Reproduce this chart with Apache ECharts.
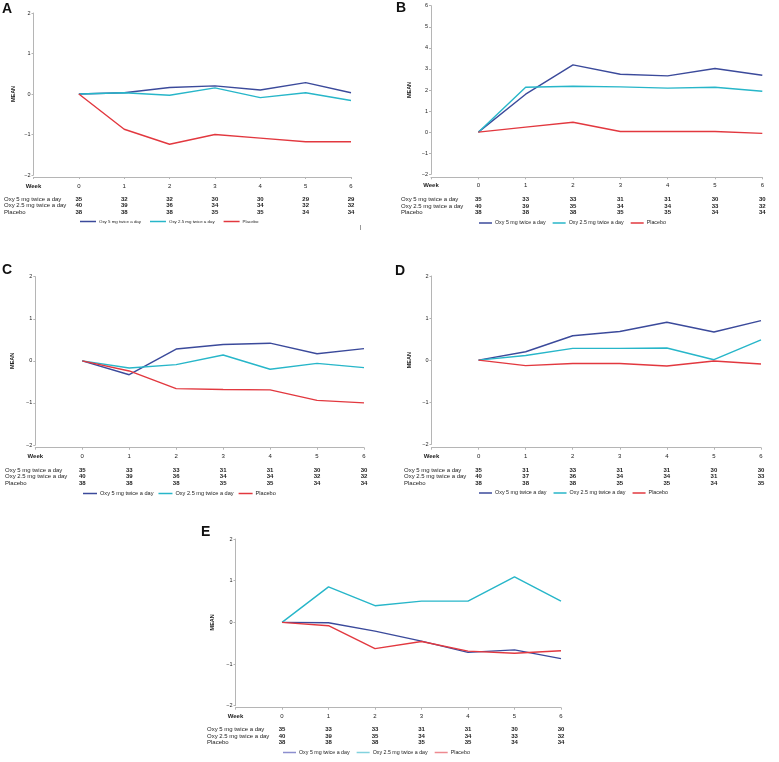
<!DOCTYPE html>
<html>
<head>
<meta charset="utf-8">
<script src="https://cdn.jsdelivr.net/npm/echarts@6/dist/echarts.min.js"></script>
<style>
html,body{margin:0;padding:0;background:#fff;}
#chart{width:779px;height:762px;}
</style>
</head>
<body>
<div id="chart"></div>
<script>
// ---------- DATA ----------
const weeks = [0, 1, 2, 3, 4, 5, 6];
const seriesNames = ['Oxy 5 mg twice a day', 'Oxy 2.5 mg twice a day', 'Placebo'];
const panelLetters = ['A', 'B', 'C', 'D', 'E'];
const yAxisTitle = 'MEAN';
const xAxisTitle = 'Week';

// Panel A
const aOxy5 = [0, 0.03, 0.16, 0.2, 0.1, 0.28, 0.03];
const aOxy25 = [0, 0.03, -0.03, 0.15, -0.09, 0.03, -0.16];
const aPlacebo = [0, -0.87, -1.24, -1.0, -1.09, -1.18, -1.18];
const aN5 = [35, 32, 32, 30, 30, 29, 29];
const aN25 = [40, 39, 36, 34, 34, 32, 32];
const aNP = [38, 38, 38, 35, 35, 34, 34];

// Panel B
const bOxy5 = [0, 1.8, 3.19, 2.75, 2.67, 3.02, 2.7];
const bOxy25 = [0, 2.13, 2.18, 2.15, 2.09, 2.13, 1.94];
const bPlacebo = [0, 0.24, 0.47, 0.03, 0.03, 0.03, -0.06];
const bN5 = [35, 33, 33, 31, 31, 30, 30];
const bN25 = [40, 39, 35, 34, 34, 33, 32];
const bNP = [38, 38, 38, 35, 35, 34, 34];

// Panel C
const cOxy5 = [0, -0.33, 0.28, 0.39, 0.42, 0.17, 0.29];
const cOxy25 = [0, -0.17, -0.09, 0.14, -0.2, -0.06, -0.16];
const cPlacebo = [0, -0.24, -0.66, -0.68, -0.69, -0.94, -1.0];
const cN5 = [35, 33, 33, 31, 31, 30, 30];
const cN25 = [40, 39, 36, 34, 34, 32, 32];
const cNP = [38, 38, 38, 35, 35, 34, 34];

// Panel D
const dOxy5 = [0, 0.2, 0.58, 0.68, 0.9, 0.67, 0.94];
const dOxy25 = [0, 0.11, 0.28, 0.28, 0.29, 0.01, 0.48];
const dPlacebo = [0, -0.13, -0.08, -0.08, -0.14, -0.02, -0.09];
const dN5 = [35, 31, 33, 31, 31, 30, 30];
const dN25 = [40, 37, 36, 34, 34, 31, 33];
const dNP = [38, 38, 38, 35, 35, 34, 35];

// Panel E
const eOxy5 = [0, -0.01, -0.21, -0.45, -0.72, -0.66, -0.87];
const eOxy25 = [0, 0.85, 0.4, 0.51, 0.51, 1.09, 0.51];
const ePlacebo = [0, -0.08, -0.63, -0.46, -0.69, -0.74, -0.68];
const eN5 = [35, 33, 33, 31, 31, 30, 30];
const eN25 = [40, 39, 35, 34, 34, 33, 32];
const eNP = [38, 38, 38, 35, 35, 34, 34];

const yMaxes = [2, 6, 2, 2, 2];

// ---------- STYLE / LAYOUT ----------
const colors = ['#3b4a9b', '#27b6c9', '#e2383f'];
const paleColors = ['#8c8fcf', '#82d2de', '#ee8a90'];
const FONT = '"Liberation Sans", Arial, sans-serif';
const axisGrey = '#b5b5b5';
const textCol = '#222';

const panels = [
  { vals: [aOxy5, aOxy25, aPlacebo], ns: [aN5, aN25, aNP],
    grid: { left: 33.5, top: 13, width: 317.5, height: 162 }, axisY: 177, weekY: 186,
    rows: [199.5, 205.8, 212], leg: { x: 80, y: 223, font: 4.4, gap: 9, w: 16 }, rowX: 4, meanX: 16.5, letter: { x: 2, y: 2 } },
  { vals: [bOxy5, bOxy25, bPlacebo], ns: [bN5, bN25, bNP],
    grid: { left: 431, top: 5.7, width: 331.3, height: 168.6 }, axisY: 177.3, weekY: 185.7,
    rows: [199.7, 206.3, 212.8], leg: { x: 479, y: 224, font: 5.3, gap: 7, w: 13 }, rowX: 401, meanX: 412.5, letter: { x: 396, y: 1.5 } },
  { vals: [cOxy5, cOxy25, cPlacebo], ns: [cN5, cN25, cNP],
    grid: { left: 35.3, top: 276.7, width: 328.7, height: 168.3 }, axisY: 447.7, weekY: 456,
    rows: [470, 476.7, 483.3], leg: { x: 83, y: 494, font: 5.6, gap: 5, w: 14 }, rowX: 5, meanX: 15.5, letter: { x: 2, y: 263 } },
  { vals: [dOxy5, dOxy25, dPlacebo], ns: [dN5, dN25, dNP],
    grid: { left: 431.5, top: 276, width: 329.5, height: 168.3 }, axisY: 447.7, weekY: 456,
    rows: [470, 476.7, 483.3], leg: { x: 479, y: 494, font: 5.4, gap: 7, w: 13 }, rowX: 404, meanX: 412.5, letter: { x: 395, y: 264 } },
  { vals: [eOxy5, eOxy25, ePlacebo], ns: [eN5, eN25, eNP],
    grid: { left: 235.5, top: 539, width: 325.5, height: 166.7 }, axisY: 707.7, weekY: 716.3,
    rows: [729.7, 736, 742.3], leg: { x: 283, y: 753.5, font: 5.3, gap: 7, w: 13 }, rowX: 207, meanX: 215.5, letter: { x: 201, y: 525 }, pale: true }
];

const grids = [], xAxes = [], yAxes = [], series = [], legends = [], graphics = [];
const minus = v => (v < 0 ? '\u2212' + Math.abs(v) : String(v));

panels.forEach((p, i) => {
  grids.push(Object.assign({}, p.grid, { containLabel: false, outerBoundsMode: 'none' }));
  const gBottom = p.grid.top + p.grid.height;
  const mainX = xAxes.length;
  xAxes.push({
    gridIndex: i, type: 'value', min: -1, max: 6, interval: 1, position: 'bottom',
    offset: p.axisY - gBottom,
    axisLine: { show: true, onZero: false, lineStyle: { color: axisGrey, width: 1 } },
    axisTick: { show: true, length: 2, lineStyle: { color: axisGrey } },
    splitLine: { show: false },
    axisLabel: {
      margin: p.weekY - p.axisY, verticalAlign: 'middle', fontSize: 6, color: textCol, fontFamily: FONT,
      hideOverlap: false,
      formatter: v => (v < 0 ? '{w|' + xAxisTitle + '}' : String(v)),
      rich: { w: { fontWeight: 'bold', fontSize: 6, color: textCol, fontFamily: FONT } }
    }
  });
  // count table rows as extra axes
  p.ns.forEach((arr, k) => {
    xAxes.push({
      gridIndex: i, type: 'value', min: -1, max: 6, interval: 1, position: 'bottom',
      offset: p.rows[k] - gBottom,
      axisLine: { show: false }, axisTick: { show: false }, splitLine: { show: false },
      axisLabel: {
        margin: 0, verticalAlign: 'middle', fontSize: 6, fontWeight: 'bold', color: textCol, fontFamily: FONT,
        hideOverlap: false,
        formatter: v => (v >= 0 ? String(arr[v]) : '')
      }
    });
    graphics.push({
      type: 'text', x: p.rowX, y: p.rows[k],
      style: { text: seriesNames[k], font: '6px ' + FONT, fill: textCol, verticalAlign: 'middle', align: 'left' }
    });
  });
  yAxes.push({
    gridIndex: i, type: 'value', min: -2, max: yMaxes[i], interval: 1,
    axisLine: { show: true, onZero: false, lineStyle: { color: axisGrey, width: 1 } },
    axisTick: { show: true, length: 2, lineStyle: { color: axisGrey } },
    splitLine: { show: false },
    axisLabel: { fontSize: 5.5, margin: 3, color: textCol, fontFamily: FONT, formatter: minus },
    name: yAxisTitle, nameLocation: 'middle', nameRotate: 90, nameGap: p.grid.left - p.meanX,
    nameMoveOverlap: false,
    nameTextStyle: { fontSize: 5.5, fontWeight: 'bold', color: textCol, fontFamily: FONT }
  });
  p.vals.forEach((vals, k) => {
    series.push({
      type: 'line', name: seriesNames[k], xAxisIndex: mainX, yAxisIndex: i,
      data: weeks.map((w, j) => [w, vals[j]]),
      symbol: 'none', silent: true,
      lineStyle: { color: colors[k], width: 1.4 }, itemStyle: { color: colors[k] }
    });
  });
  legends.push({
    left: p.leg.x, top: p.leg.y - 3.5, orient: 'horizontal', padding: 0,
    icon: 'rect', itemWidth: p.leg.w, itemHeight: 1.5, itemGap: p.leg.gap, selectedMode: false,
    textStyle: { fontSize: p.leg.font, color: textCol, fontFamily: FONT, padding: [0, 0, 0, -2] },
    data: seriesNames.map((n, k) => ({
      name: n,
      itemStyle: { color: p.pale ? paleColors[k] : colors[k] }
    }))
  });
  graphics.push({
    type: 'text', x: p.letter.x, y: p.letter.y,
    style: { text: panelLetters[i], font: 'bold 14px ' + FONT, fill: '#111', verticalAlign: 'top' }
  });
});

// stray mark near panel A
graphics.push({ type: 'line', shape: { x1: 360.5, y1: 225, x2: 360.5, y2: 230 }, style: { stroke: '#999', lineWidth: 1 } });

const chart = echarts.init(document.getElementById('chart'), null, { renderer: 'canvas' });
chart.setOption({
  backgroundColor: '#fff',
  animation: false,
  textStyle: { fontFamily: FONT },
  grid: grids, xAxis: xAxes, yAxis: yAxes, series: series, legend: legends, graphic: graphics
});
</script>
</body>
</html>
